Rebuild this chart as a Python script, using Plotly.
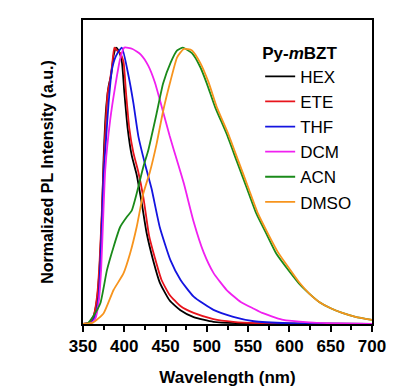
import plotly.graph_objects as go

# ---- data ----
hex_wl = [350, 358, 363, 367, 370, 373, 375, 378, 381, 384, 387, 390, 393, 397, 400, 404, 409, 415, 421, 427, 435, 443, 455, 468, 484, 508, 550, 600, 700]
hex_pl = [0, 0.005, 0.03, 0.09, 0.2, 0.4, 0.6, 0.78, 0.86, 0.9, 0.97, 1.0, 0.99, 0.95, 0.84, 0.71, 0.61, 0.54, 0.44, 0.33, 0.23, 0.15, 0.085, 0.05, 0.025, 0.008, 0.002, 0.001, 0]

ete_wl = [350, 358, 363, 367, 370, 373, 375, 377, 380, 382, 385, 388, 391, 395, 399, 402, 406, 411, 417, 423, 426, 430, 437, 445, 455, 468, 484, 508, 532, 560, 620, 700]
ete_pl = [0, 0.005, 0.03, 0.1, 0.22, 0.42, 0.57, 0.70, 0.84, 0.87, 0.93, 1.0, 0.99, 0.98, 0.95, 0.84, 0.71, 0.62, 0.55, 0.46, 0.40, 0.32, 0.24, 0.16, 0.105, 0.065, 0.04, 0.018, 0.008, 0.003, 0.001, 0]

thf_wl = [350, 360, 365, 369, 372, 375, 377, 381, 385, 390, 397, 405, 411, 417, 425, 433, 443, 456, 468, 484, 508, 532, 557, 600, 650, 700]
thf_pl = [0, 0.005, 0.03, 0.1, 0.3, 0.54, 0.63, 0.8, 0.92, 0.97, 1.0, 0.9, 0.8, 0.68, 0.58, 0.49, 0.35, 0.23, 0.16, 0.099, 0.051, 0.026, 0.01, 0.003, 0.001, 0]

dcm_wl = [350, 360, 365, 369, 372, 374, 377, 383, 389, 395, 400, 410, 420, 429, 437, 445, 455, 460, 472, 484, 496, 508, 524, 541, 557, 567, 591, 624, 660, 700]
dcm_pl = [0, 0.003, 0.02, 0.08, 0.2, 0.35, 0.56, 0.74, 0.86, 0.96, 1.0, 0.995, 0.975, 0.935, 0.875, 0.79, 0.68, 0.63, 0.51, 0.37, 0.26, 0.185, 0.123, 0.08, 0.055, 0.04, 0.016, 0.006, 0.002, 0]

acn_wl = [350, 356, 362, 371, 379, 387, 395, 403, 409, 415, 423, 429, 439, 447, 456, 464, 471, 482, 492, 500, 510, 524, 536, 548, 560, 572, 584, 600, 612, 624, 636, 650, 664, 680, 700]
acn_pl = [0, 0.004, 0.026, 0.075, 0.195, 0.279, 0.351, 0.387, 0.41, 0.472, 0.568, 0.628, 0.76, 0.87, 0.945, 0.99, 1.0, 0.98, 0.93, 0.87, 0.785, 0.6875, 0.591, 0.495, 0.399, 0.327, 0.255, 0.19, 0.145, 0.11, 0.08, 0.057, 0.04, 0.026, 0.015]

dmso_wl = [350, 362, 375, 387, 399, 407, 415, 423, 431, 439, 447, 456, 464, 472, 482, 492, 502, 512, 526, 538, 550, 562, 574, 586, 600, 612, 624, 636, 650, 664, 680, 700]
dmso_pl = [0, 0.005, 0.039, 0.123, 0.183, 0.255, 0.351, 0.472, 0.55, 0.65, 0.77, 0.88, 0.965, 0.995, 0.99, 0.945, 0.875, 0.785, 0.6875, 0.591, 0.495, 0.399, 0.327, 0.26, 0.2, 0.15, 0.11, 0.08, 0.057, 0.04, 0.026, 0.015]

names = ["HEX", "ETE", "THF", "DCM", "ACN", "DMSO"]
wls = [hex_wl, ete_wl, thf_wl, dcm_wl, acn_wl, dmso_wl]
pls = [hex_pl, ete_pl, thf_pl, dcm_pl, acn_pl, dmso_pl]
colors = ["#000000", "#e8141c", "#1414e0", "#f020f0", "#1a8a1a", "#f7941d"]

FONT = "Arial, Liberation Sans, sans-serif"

fig = go.Figure()
for n, x, y, c in zip(names, wls, pls, colors):
    fig.add_trace(go.Scatter(x=x, y=y, mode="lines", name=n, legendgroup=n,
                             line=dict(color=c, width=1.8, shape="spline", smoothing=0.5)))

fig.update_layout(
    width=419, height=387,
    margin=dict(l=83, r=47, t=20, b=63),
    paper_bgcolor="white", plot_bgcolor="white",
    font=dict(family=FONT, color="black"),
    showlegend=True,
    legend=dict(
        title=dict(text="<b>Py-<i>m</i>BZT</b>", font=dict(size=17, family=FONT)),
        font=dict(size=17, family=FONT),
        x=0.613, y=0.945, xanchor="left", yanchor="top",
        bgcolor="rgba(0,0,0,0)", tracegroupgap=0,
        itemwidth=30,
    ),
    xaxis=dict(
        range=[350, 700], tickvals=[350, 400, 450, 500, 550, 600, 650, 700],
        ticks="outside", ticklen=6, tickwidth=1.5, tickcolor="black",
        minor=dict(dtick=25, ticks="outside", ticklen=4, tickwidth=1.5, tickcolor="black"),
        showline=True, linecolor="black", linewidth=2, mirror=True,
        showgrid=False, zeroline=False, automargin=False,
        tickfont=dict(size=17, family=FONT, weight="bold"),
        title=dict(text="<b>Wavelength (nm)</b>", font=dict(size=17, family=FONT), standoff=16),
    ),
    yaxis=dict(
        range=[0, 1.1], showticklabels=False, ticks="",
        showline=True, linecolor="black", linewidth=2, mirror=True,
        showgrid=False, zeroline=False, automargin=False,
        title=dict(text="<b>Normalized PL Intensity (a.u.)</b>", font=dict(size=16, family=FONT), standoff=23),
    ),
)

fig.write_html("out.html", config={"displayModeBar": False},
               post_script="document.body.style.margin='0';")
